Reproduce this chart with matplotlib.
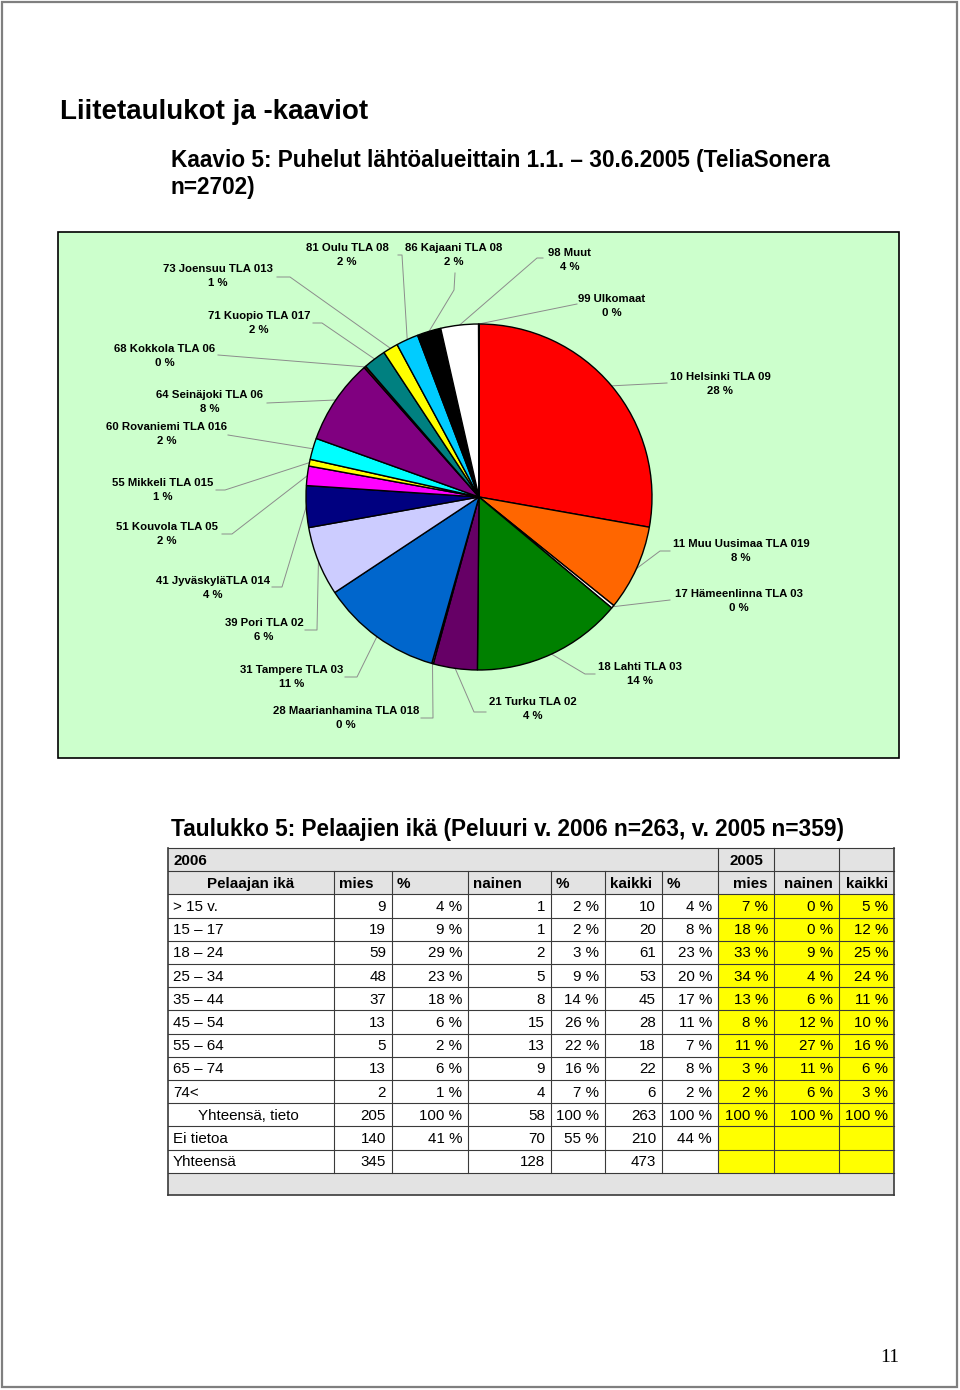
import matplotlib
matplotlib.use('Agg')
import matplotlib.pyplot as plt
from matplotlib.patches import Rectangle
import numpy as np

plt.rcParams['font.family'] = ['Liberation Sans', 'DejaVu Sans']

W, H = 960, 1390

# --- pie data (calls by origin area, TeliaSonera n=2702) ---
areas = ['10 Helsinki TLA 09', '11 Muu Uusimaa TLA 019', '17 Hämeenlinna TLA 03',
         '18 Lahti TLA 03', '21 Turku TLA 02', '28 Maarianhamina TLA 018',
         '31 Tampere TLA 03', '39 Pori TLA 02', '41 JyväskyläTLA 014',
         '51 Kouvola TLA 05', '55 Mikkeli TLA 015', '60 Rovaniemi TLA 016',
         '64 Seinäjoki TLA 06', '68 Kokkola TLA 06', '71 Kuopio TLA 017',
         '73 Joensuu TLA 013', '81 Oulu TLA 08', '86 Kajaani TLA 08',
         '98 Muut', '99 Ulkomaat']
calls = [751, 216, 8, 380, 111, 4, 305, 175, 105, 49, 17, 54, 215, 5, 57, 38, 56, 60, 95, 1]
slice_colors = ['#FF0000', '#FF6600', '#FFFFFF', '#008000', '#660066', '#FF8080',
                '#0066CC', '#CCCCFF', '#000080', '#FF00FF', '#FFFF00', '#00FFFF',
                '#800080', '#800000', '#008080', '#FFFF00', '#00CCFF', '#000000',
                '#FFFFFF', '#FFFF99']

# label layout: text centre, leader end near text, leader elbow
lab_xy = [(720, 384), (741, 551), (739, 601), (640, 674), (533, 709), (346, 718),
          (292, 677), (264, 630), (213, 588), (167, 534), (163, 490), (167, 434),
          (210, 402), (165, 356), (259, 323), (218, 276), (347, 255), (454, 255),
          (570, 260), (612, 306)]
lead_end = [(667, 383), (670, 551), (670, 600), (595, 674), (486, 712), (421, 718),
            (345, 677), (305, 630), (272, 587), (222, 534), (216, 490), (228, 435),
            (267, 403), (218, 355), (313, 323), (277, 277), (398, 255), (455, 273),
            (543, 258), (577, 304)]
lead_elb = [(667, 383), (660, 551), (670, 600), (585, 674), (474, 712), (433, 718),
            (357, 677), (317, 630), (282, 587), (232, 534), (225, 490), (228, 435),
            (267, 403), (218, 355), (322, 323), (290, 277), (402, 255), (454, 290),
            (537, 258), (577, 304)]

# --- table data (Peluuri 2006 / 2005) ---
age_groups = ['> 15 v.', '15 – 17', '18 – 24', '25 – 34', '35 – 44', '45 – 54',
              '55 – 64', '65 – 74', '74<', 'Yhteensä, tieto', 'Ei tietoa', 'Yhteensä']
mies = [9, 19, 59, 48, 37, 13, 5, 13, 2, 205, 140, 345]
mies_pct = [4, 9, 29, 23, 18, 6, 2, 6, 1, 100, 41, None]
nainen = [1, 1, 2, 5, 8, 15, 13, 9, 4, 58, 70, 128]
nainen_pct = [2, 2, 3, 9, 14, 26, 22, 16, 7, 100, 55, None]
kaikki = [10, 20, 61, 53, 45, 28, 18, 22, 6, 263, 210, 473]
kaikki_pct = [4, 8, 23, 20, 17, 11, 7, 8, 2, 100, 44, None]
mies_2005 = [7, 18, 33, 34, 13, 8, 11, 3, 2, 100, None, None]
nainen_2005 = [0, 0, 9, 4, 6, 12, 27, 11, 6, 100, None, None]
kaikki_2005 = [5, 12, 25, 24, 11, 10, 16, 6, 3, 100, None, None]
head_2006 = ['Pelaajan ikä', 'mies', '%', 'nainen', '%', 'kaikki', '%']
head_2005 = ['mies', 'nainen', 'kaikki']

fig = plt.figure(figsize=(W / 100, H / 100), dpi=100)
ax = fig.add_axes([0, 0, 1, 1])
ax.set_xlim(0, W)
ax.set_ylim(H, 0)
ax.axis('off')

# page frame
ax.add_patch(Rectangle((2, 2), W - 5, H - 5, fill=False, edgecolor='#7f7f7f', lw=1.6))

ax.text(60, 119, 'Liitetaulukot ja -kaaviot', fontsize=20, fontweight='bold', va='baseline')
ax.text(171, 167, 'Kaavio 5: Puhelut lähtöalueittain 1.1. – 30.6.2005 (TeliaSonera',
        fontsize=16.3, fontweight='bold', va='baseline')
ax.text(171, 194, 'n=2702)', fontsize=16.3, fontweight='bold', va='baseline')

# chart area
ax.add_patch(Rectangle((58, 232), 841, 526, facecolor='#CCFFCC', edgecolor='black', lw=1.2))

# pie
cx, cy, r = 479, 497, 173
pad = 1.05
pax = fig.add_axes([(cx - r * pad) / W, (H - cy - r * pad) / H, 2 * r * pad / W, 2 * r * pad / H])
wedges, _ = pax.pie(calls, colors=slice_colors, startangle=90, counterclock=False,
                    wedgeprops=dict(edgecolor='black', linewidth=1.0))
pax.set_xlim(-pad, pad)
pax.set_ylim(-pad, pad)
pax.set_aspect('auto')
pax.axis('off')

total = sum(calls)
inv = ax.transData.inverted()
for i, w in enumerate(wedges):
    t = np.deg2rad((w.theta1 + w.theta2) / 2)
    px, py = inv.transform(pax.transData.transform((np.cos(t), np.sin(t))))
    ex, ey = lead_elb[i]
    hx, hy = lead_end[i]
    ax.plot([px, ex, hx], [py, ey, hy], color='#8c8c8c', lw=0.7, zorder=1)
    pct = round(calls[i] / total * 100)
    tx, ty = lab_xy[i]
    ax.text(tx, ty, '%s\n%d %%' % (areas[i], pct), fontsize=8.2, fontweight='bold',
            ha='center', va='center', multialignment='center', linespacing=1.6)

# table
ax.text(171, 836, 'Taulukko 5: Pelaajien ikä (Peluuri v. 2006 n=263, v. 2005 n=359)',
        fontsize=16.3, fontweight='bold', va='baseline')

xs = [168, 334, 392, 468, 551, 605, 662, 718, 774, 839, 894]
top, rh = 848, 23.2
grey = '#E3E3E3'
line_c = '#3a3a3a'
fs = 10.9
nrows = len(age_groups)
foot_top = top + (nrows + 2) * rh
foot_bot = 1195

# backgrounds
ax.add_patch(Rectangle((xs[0], top), xs[-1] - xs[0], 2 * rh, facecolor=grey, edgecolor='none'))
ax.add_patch(Rectangle((xs[7], top + 2 * rh), xs[-1] - xs[7], nrows * rh, facecolor='#FFFF00', edgecolor='none'))
ax.add_patch(Rectangle((xs[0], foot_top), xs[-1] - xs[0], foot_bot - foot_top, facecolor=grey, edgecolor='none'))

# grid
for k in range(nrows + 3):
    y = top + k * rh
    ax.plot([xs[0], xs[-1]], [y, y], color=line_c, lw=0.8)
ax.plot([xs[0], xs[-1]], [foot_bot, foot_bot], color=line_c, lw=1.2)
ax.plot([xs[0], xs[0]], [top, foot_bot], color=line_c, lw=1.2)
ax.plot([xs[-1], xs[-1]], [top, foot_bot], color=line_c, lw=1.2)
for j, x in enumerate(xs[1:-1], start=1):
    y0 = top if j >= 7 else top + rh
    ax.plot([x, x], [y0, foot_top], color=line_c, lw=0.8)

# header rows
yc = top + rh / 2 + 1
ax.text(xs[0] + 5, yc, '2006', fontsize=fs, fontweight='bold', va='center')
ax.text((xs[7] + xs[8]) / 2, yc, '2005', fontsize=fs, fontweight='bold', va='center', ha='center')
yc = top + 1.5 * rh + 1
for j, h in enumerate(head_2006):
    if j == 0:
        ax.text((xs[0] + xs[1]) / 2, yc, h, fontsize=fs, fontweight='bold', va='center', ha='center')
    else:
        ax.text(xs[j] + 5, yc, h, fontsize=fs, fontweight='bold', va='center')
for j, h in enumerate(head_2005):
    ax.text(xs[8 + j] - 6, yc, h, fontsize=fs, fontweight='bold', va='center', ha='right')

def fmt_pct(v):
    return '' if v is None else '%d %%' % v

cols = [mies, mies_pct, nainen, nainen_pct, kaikki, kaikki_pct, mies_2005, nainen_2005, kaikki_2005]
pct_cols = {1, 3, 5, 6, 7, 8}
for i, lab in enumerate(age_groups):
    yc = top + (i + 2.5) * rh + 1
    lx = xs[0] + 30 if lab == 'Yhteensä, tieto' else xs[0] + 5
    ax.text(lx, yc, lab, fontsize=fs, va='center')
    for j, col in enumerate(cols):
        v = col[i]
        s = fmt_pct(v) if j in pct_cols else ('' if v is None else str(v))
        ax.text(xs[j + 2] - 6, yc, s, fontsize=fs, va='center', ha='right')

ax.text(890, 1358, '11', fontsize=14, family='Liberation Serif', ha='center', va='center')

fig.savefig('out.png', dpi=100)
